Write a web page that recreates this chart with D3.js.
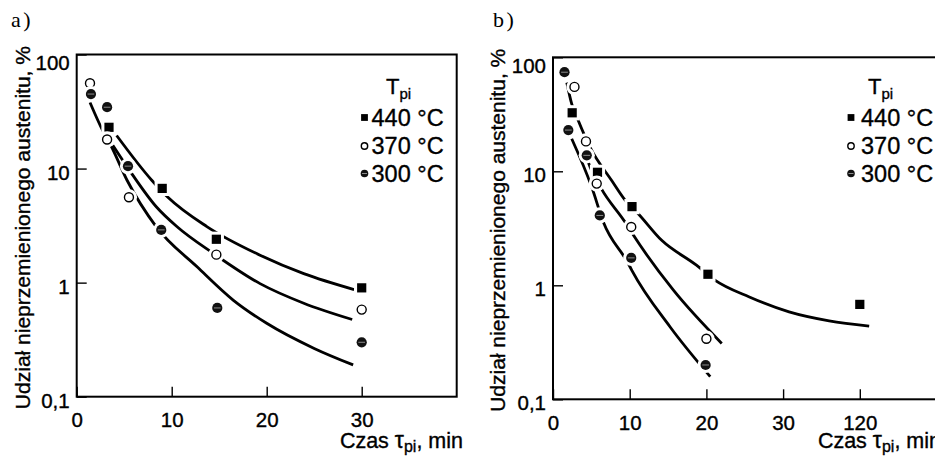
<!DOCTYPE html>
<html>
<head>
<meta charset="utf-8">
<script src="https://cdn.jsdelivr.net/npm/d3@7"></script>
<style>
  html, body { margin: 0; padding: 0; background: #fff; }
  svg { display: block; }
</style>
</head>
<body>
<svg id="chart" width="935" height="460"></svg>
<script>
// ---- Panel a) measured points (time in min, untransformed austenite in %) ----
const aTime440 = [3.4, 9.0, 14.7, 30];
const aVal440  = [23, 6.7, 2.4, 0.9];
const aTime370 = [1.4, 3.2, 5.5, 14.7, 30];
const aVal370  = [56, 18, 5.6, 1.76, 0.58];
const aTime300 = [1.5, 3.2, 5.4, 8.9, 14.8, 30];
const aVal300  = [45, 34.5, 10.5, 2.9, 0.6, 0.3];

// ---- Panel a) trend curves ----
const aFitTime440 = [4.2, 7.9, 9.6, 13.7, 19.3, 23.9, 29.2];
const aFitVal440  = [19.5, 7.9, 5.6, 3.1, 1.74, 1.2, 0.87];
const aFitTime370 = [3.8, 5.5, 8.4, 10.6, 14.4, 19.3, 23.9, 29.0];
const aFitVal370  = [16, 9.8, 4.6, 3.07, 1.8, 0.98, 0.66, 0.475];
const aFitTime300 = [1.4, 3.0, 3.5, 5.3, 8.4, 12.7, 16.5, 20.0, 25.0, 29.1];
const aFitVal300  = [38, 19.5, 16.5, 7.9, 3.07, 1.37, 0.70, 0.44, 0.265, 0.19];

// ---- Panel b) measured points ----
const bTime440 = [2.5, 5.8, 10.3, 20.2, 120];
const bVal440  = [32.6, 9.8, 4.9, 1.25, 0.68];
const bTime370 = [2.8, 4.3, 5.7, 10.2, 20];
const bVal370  = [55, 18.3, 7.8, 3.25, 0.34];
const bTime300 = [1.5, 2.0, 4.4, 6.1, 10.2, 19.9];
const bVal300  = [74, 23, 13.8, 4.1, 1.74, 0.2];

// ---- Panel b) trend curves ----
const bFitTime440 = [1.8, 2.44, 3.2, 4.82, 7.65, 9.6, 10.9, 14.17, 18.7, 21.1, 25.6, 37, 84, 131];
const bFitVal440  = [60, 39, 28.9, 16.3, 8.3, 5.37, 4.4, 2.48, 1.5, 1.11, 0.79, 0.585, 0.488, 0.439];
const bFitTime370 = [4.3, 4.6, 6.3, 9.39, 10.26, 15.7, 22.0];
const bFitVal370  = [13.8, 12.0, 7.05, 3.59, 2.9, 0.905, 0.309];
const bFitTime300 = [2.44, 5.05, 6.56, 9.82, 10.26, 15.25, 20.5];
const bFitVal300  = [19.3, 7.27, 3.59, 1.55, 1.36, 0.433, 0.158];

// ---- Axis ticks and labels ----
const aXTicks = [0, 10, 20, 30];
const aXTickLabels = ["0", "10", "20", "30"];
const bXTicks = [0, 10, 20, 30, 120];
const bXTickLabels = ["0", "10", "20", "30", "120"];
const yTicks = [0.1, 1, 10, 100];
const yTickLabels = ["0,1", "1", "10", "100"];

const legendLabels = ["440 °C", "370 °C", "300 °C"];
const markerTypes = ["square", "open", "half"];
const yTitle = "Udział nieprzemienionego austenitu, %";

const SANS = "'Liberation Sans', Arial, Helvetica, sans-serif";
const SERIF = "'Liberation Serif', 'Times New Roman', serif";

const svg = d3.select("#chart");

// slightly heavier sans text, like offset-printed Helvetica
function sans(sel, size) {
  return sel.style("font-family", SANS).style("font-size", size + "px")
    .attr("fill", "#000").style("stroke", "#000").style("stroke-width", 0.35);
}

function drawMarker(g, type, cx, cy, size, halo) {
  if (halo) {
    if (type === "square") {
      const h = size / 2 + halo;
      g.append("rect").attr("x", cx - h).attr("y", cy - h)
        .attr("width", 2 * h).attr("height", 2 * h).attr("fill", "#fff");
    } else {
      g.append("circle").attr("cx", cx).attr("cy", cy)
        .attr("r", size / 2 + halo).attr("fill", "#fff");
    }
  }
  if (type === "square") {
    g.append("rect").attr("x", cx - size / 2).attr("y", cy - size / 2)
      .attr("width", size).attr("height", size).attr("fill", "#000");
  } else if (type === "open") {
    g.append("circle").attr("cx", cx).attr("cy", cy).attr("r", size / 2 - 0.6)
      .attr("fill", "#fff").attr("stroke", "#000").attr("stroke-width", 1.4);
  } else {
    g.append("circle").attr("cx", cx).attr("cy", cy).attr("r", size / 2)
      .attr("fill", "#111");
    g.append("line").attr("x1", cx - size * 0.33).attr("x2", cx + size * 0.33)
      .attr("y1", cy).attr("y2", cy)
      .attr("stroke", "#9a9a9a").attr("stroke-width", 0.9);
  }
}

function drawPanel(cfg) {
  const { x, y, left, right, top, bottom, xTicks, xTickLabels,
          points, fits, letter, letterX, yTitleX, xTitleEnd,
          legendMarkerX, legendTextX, legendTX } = cfg;
  const g = svg.append("g");

  // frame
  g.append("rect")
    .attr("x", left).attr("y", top)
    .attr("width", right - left).attr("height", bottom - top)
    .attr("fill", "none").attr("stroke", "#000").attr("stroke-width", 2);

  // x axis (inward ticks)
  const xAxis = d3.axisBottom(x)
    .tickValues(xTicks)
    .tickFormat((d, i) => xTickLabels[i])
    .tickSize(-10).tickPadding(16);
  const gx = g.append("g").attr("transform", `translate(0,${bottom})`).call(xAxis);
  gx.select(".domain").remove();
  gx.selectAll(".tick line").attr("stroke", "#000").attr("stroke-width", 1.4);
  sans(gx.selectAll(".tick text"), 20.5);

  // y axis (inward ticks, log scale)
  const yAxis = d3.axisLeft(y)
    .tickValues(yTicks)
    .tickFormat((d, i) => yTickLabels[i])
    .tickSize(-10).tickPadding(7);
  const gy = g.append("g").attr("transform", `translate(${left},0)`).call(yAxis);
  gy.select(".domain").remove();
  gy.selectAll(".tick line").attr("stroke", "#000").attr("stroke-width", 1.4);
  sans(gy.selectAll(".tick text"), 20.5)
    .attr("dy", d => d === 100 ? "0.72em" : "0.52em");

  // trend curves
  const line = d3.line()
    .x(d => x(d[0])).y(d => y(d[1]))
    .curve(d3.curveMonotoneX);
  fits.forEach(f => {
    g.append("path")
      .datum(d3.zip(f.t, f.v))
      .attr("d", line)
      .attr("fill", "none").attr("stroke", "#000").attr("stroke-width", 2.8);
  });

  // measured points with a white halo that breaks the curves
  const gm = g.append("g");
  points.forEach(p => {
    p.t.forEach((t, i) => {
      drawMarker(gm, p.type, x(t), y(p.v[i]), p.type === "square" ? 9.2 : 10.2, 3);
    });
  });

  // legend
  const gl = g.append("g");
  const tTitle = sans(gl.append("text").attr("x", legendTX).attr("y", 94), 22);
  tTitle.append("tspan").text("T");
  tTitle.append("tspan").attr("dy", 5).style("font-size", "15px").text("pi");
  const rowY = [117.5, 146, 173.5];
  legendLabels.forEach((lab, i) => {
    drawMarker(gl, markerTypes[i], legendMarkerX, rowY[i], i === 0 ? 6.8 : 7.6, 0);
    sans(gl.append("text")
      .attr("x", legendTextX).attr("y", rowY[i]).attr("dy", "0.36em"), 23.5)
      .text(lab);
  });

  // axis titles
  sans(g.append("text")
    .attr("transform", `translate(${yTitleX},${(top + bottom) / 2 + 2}) rotate(-90)`)
    .attr("text-anchor", "middle").attr("dy", "0.35em"), 21)
    .text(yTitle);

  const xt = sans(g.append("text")
    .attr("x", xTitleEnd).attr("y", 448).attr("text-anchor", "end"), 21.5);
  xt.append("tspan").text("Czas ");
  xt.append("tspan").style("font-size", "23px").text("τ");
  xt.append("tspan").attr("dy", 4).style("font-size", "16px").text("pi");
  xt.append("tspan").attr("dy", -4).text(", min");

  // panel letter
  g.append("text")
    .attr("x", letterX).attr("y", 27)
    .style("font-family", SERIF).style("font-size", "22px")
    .style("letter-spacing", "2.5px")
    .text(letter);
}

// ---- Panel a) ----
const aLeft = 76.7, aRight = 456.7, aTop = 54.5, aBottom = 396.7;
const ax = d3.scaleLinear().domain([0, 40]).range([aLeft, aRight]);
const ay = d3.scaleLog().domain([0.1, 100]).range([aBottom, aTop]);
drawPanel({
  x: ax, y: ay, left: aLeft, right: aRight, top: aTop, bottom: aBottom,
  xTicks: aXTicks, xTickLabels: aXTickLabels,
  points: [
    { type: "square", t: aTime440, v: aVal440 },
    { type: "open",   t: aTime370, v: aVal370 },
    { type: "half",   t: aTime300, v: aVal300 }
  ],
  fits: [
    { t: aFitTime440, v: aFitVal440 },
    { t: aFitTime370, v: aFitVal370 },
    { t: aFitTime300, v: aFitVal300 }
  ],
  letter: "a)", letterX: 11, yTitleX: 22.5, xTitleEnd: 463,
  legendMarkerX: 364.5, legendTextX: 371.5, legendTX: 386
});

// ---- Panel b) : broken time axis, 120 min placed after 30 min ----
const bLeft = 553, bRight = 945, bTop = 57.3, bBottom = 399.3;
const bStep = 7.67;
const bx = d3.scaleLinear().domain([0, 30, 120])
  .range([bLeft, bLeft + 30 * bStep, bLeft + 40 * bStep]);
const by = d3.scaleLog().domain([0.1, 100]).range([bBottom, bTop]);
drawPanel({
  x: bx, y: by, left: bLeft, right: bRight, top: bTop, bottom: bBottom,
  xTicks: bXTicks, xTickLabels: bXTickLabels,
  points: [
    { type: "square", t: bTime440, v: bVal440 },
    { type: "open",   t: bTime370, v: bVal370 },
    { type: "half",   t: bTime300, v: bVal300 }
  ],
  fits: [
    { t: bFitTime440, v: bFitVal440 },
    { t: bFitTime370, v: bFitVal370 },
    { t: bFitTime300, v: bFitVal300 }
  ],
  letter: "b)", letterX: 493, yTitleX: 498, xTitleEnd: 941,
  legendMarkerX: 851, legendTextX: 861, legendTX: 868
});
</script>
</body>
</html>
